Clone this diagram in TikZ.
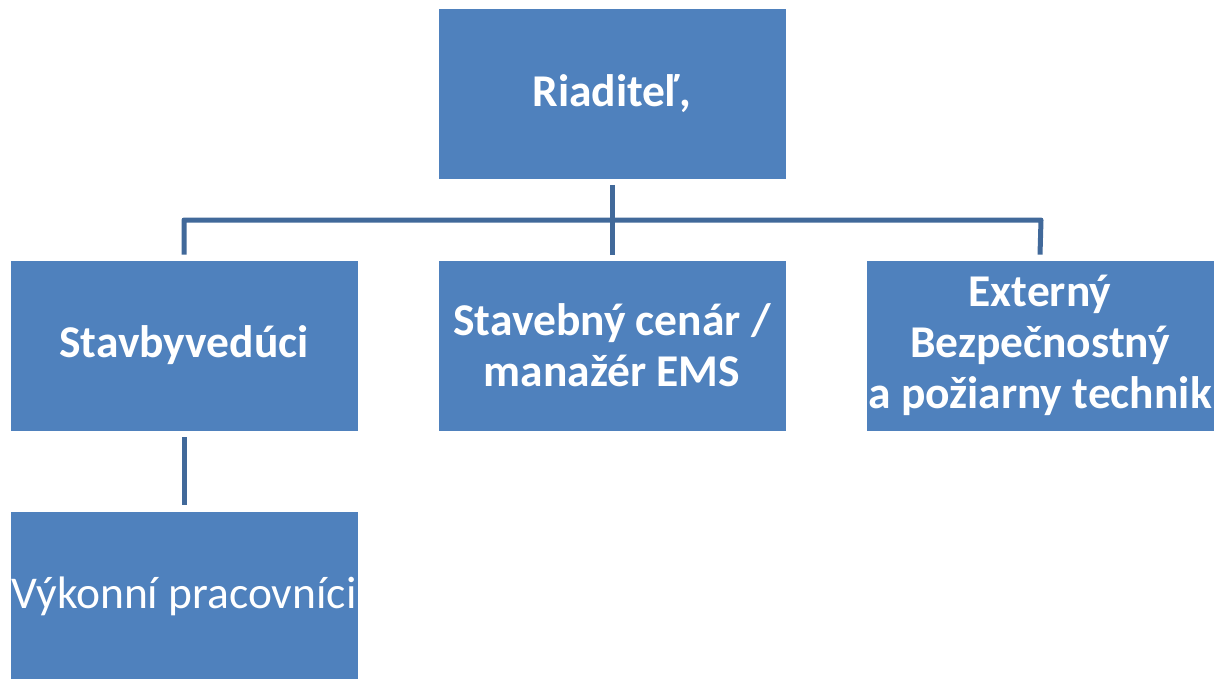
\documentclass[tikz,border=0pt]{standalone}
\usepackage{fontspec}
\setmainfont{Carlito}
\definecolor{boxfill}{HTML}{4F81BD}
\definecolor{linecol}{HTML}{41699A}
\begin{document}
\begin{tikzpicture}[x=1pt,y=-1pt,
  orgbox/.style={fill=boxfill,draw=white,line width=0.8pt,minimum width=348pt,minimum height=171pt,
    text=white,font=\fontsize{45.5}{51}\selectfont\bfseries,align=center,inner sep=0pt},
  conn/.style={draw=linecol,line width=5pt}]
\useasboundingbox (0,0) rectangle (1220,678);
\node[orgbox] (dir) at (612,94) {Riaditeľ,};
\node[orgbox] (sv) at (184,345.5) {Stavbyvedúci};
\node[orgbox] (sc) at (612,345.5) {Stavebný cenár /\\manažér EMS};
\node[orgbox] (ext) at (1040,345.5) {Externý\\Bezpečnostný\\a požiarny technik};
\node[orgbox,font=\fontsize{45.5}{51}\selectfont] (vp) at (184,596.5) {Výkonní pracovníci};
\coordinate (hl) at (184,220);
\coordinate (hr) at (1041,220);
\draw[conn] ([yshift=-5pt]dir.south) -- ([yshift=5pt]sc.north);
\draw[conn,line join=round] ([yshift=5pt]sv.north) -- (hl) -- (hr) -- ([yshift=5pt]ext.north);
\draw[conn] ([yshift=-6pt]sv.south) -- ([yshift=6pt]vp.north);
\end{tikzpicture}
\end{document}
